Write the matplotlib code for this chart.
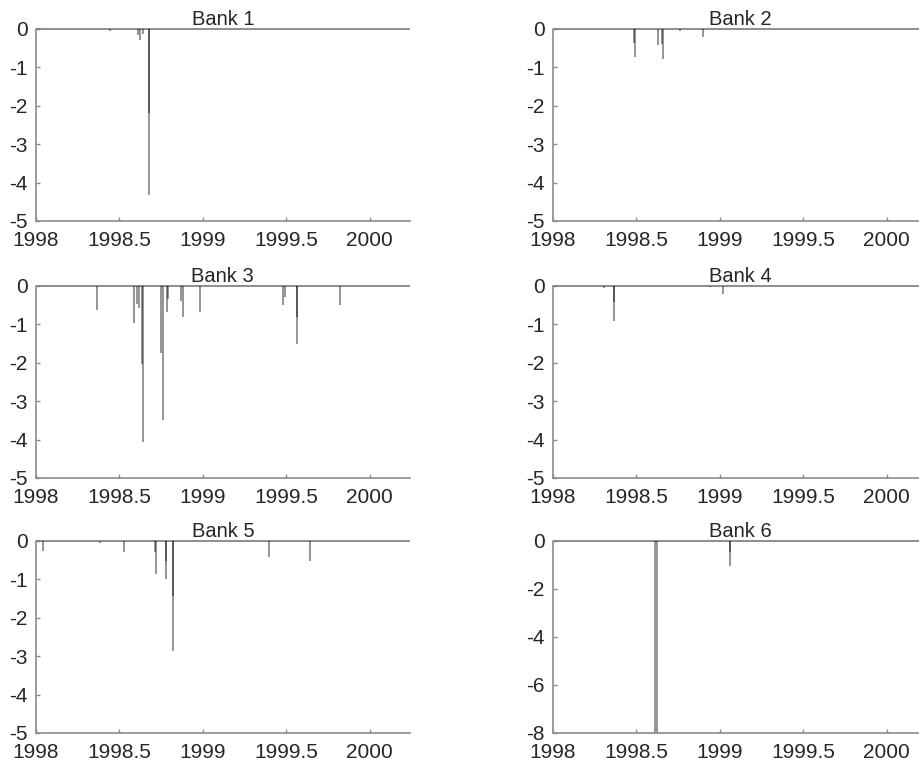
"""Daily loss spikes for six banks, 1998-2000."""

import numpy as np
import matplotlib.pyplot as plt

plt.rcParams["font.family"] = ["Liberation Sans", "DejaVu Sans"]

# time span covered by every series
series_start = 1998.0
series_end = 2000.24

# spike dates (decimal years) and values
bank1_dates = [1998.444, 1998.610, 1998.625, 1998.640, 1998.680, 1998.680]
bank1_values = [-0.06, -0.15, -0.28, -0.12, -2.19, -4.32]

bank2_dates = [1998.485, 1998.490, 1998.630, 1998.655, 1998.662, 1998.760, 1998.900]
bank2_values = [-0.36, -0.72, -0.42, -0.40, -0.78, -0.05, -0.20]

bank3_dates = [1998.364, 1998.590, 1998.605, 1998.615, 1998.633, 1998.640,
               1998.750, 1998.764, 1998.786, 1998.792, 1998.870, 1998.880,
               1998.984, 1999.480, 1999.490, 1999.564, 1999.564, 1999.824]
bank3_values = [-0.63, -0.97, -0.46, -0.58, -2.04, -4.06,
                -1.74, -3.50, -0.67, -0.33, -0.40, -0.80,
                -0.67, -0.49, -0.30, -0.80, -1.52, -0.49]

bank4_dates = [1998.306, 1998.368, 1998.368, 1998.940, 1999.018]
bank4_values = [-0.05, -0.43, -0.91, -0.03, -0.22]

bank5_dates = [1998.040, 1998.384, 1998.528, 1998.712, 1998.718, 1998.778,
               1998.778, 1998.824, 1998.824, 1999.394, 1999.644]
bank5_values = [-0.26, -0.05, -0.28, -0.30, -0.87, -0.52,
                -1.00, -1.44, -2.87, -0.43, -0.52]

bank6_dates = [1998.612, 1998.624, 1999.058, 1999.058]
bank6_values = [-8.0, -8.0, -0.47, -1.04]

panels = [
    ("Bank 1", bank1_dates, bank1_values, (-5, 0), [-5, -4, -3, -2, -1, 0]),
    ("Bank 2", bank2_dates, bank2_values, (-5, 0), [-5, -4, -3, -2, -1, 0]),
    ("Bank 3", bank3_dates, bank3_values, (-5, 0), [-5, -4, -3, -2, -1, 0]),
    ("Bank 4", bank4_dates, bank4_values, (-5, 0), [-5, -4, -3, -2, -1, 0]),
    ("Bank 5", bank5_dates, bank5_values, (-5, 0), [-5, -4, -3, -2, -1, 0]),
    ("Bank 6", bank6_dates, bank6_values, (-8, 0), [-8, -6, -4, -2, 0]),
]

x_ticks = [1998, 1998.5, 1999, 1999.5, 2000]
x_labels = ["1998", "1998.5", "1999", "1999.5", "2000"]

AXIS_GRAY = "#8c8c8c"
TEXT_GRAY = "#262626"

fig = plt.figure(figsize=(9.2, 7.66), dpi=100)

col_left = [0.039, 0.601]
row_bottom = [0.7115, 0.376, 0.0431]
ax_w, ax_h = 0.4065, 0.2507

for i, (title, dates, values, ylim, yticks) in enumerate(panels):
    row, col = divmod(i, 2)
    ax = fig.add_axes([col_left[col], row_bottom[row], ax_w, ax_h])

    ax.plot([series_start, series_end], [0, 0], color="#7a7a7a", lw=1.2,
            clip_on=False, solid_capstyle="butt")
    ax.vlines(np.array(dates), np.array(values), 0, colors="black",
              alpha=0.45, lw=1.3)

    ax.set_xlim(1998, series_end)
    ax.set_ylim(*ylim)
    ax.set_xticks(x_ticks)
    ax.set_xticklabels(x_labels)
    ax.set_yticks(yticks)
    ax.set_yticklabels([str(t) for t in yticks])

    for side in ("top", "right"):
        ax.spines[side].set_visible(False)
    for side in ("left", "bottom"):
        ax.spines[side].set_color(AXIS_GRAY)
        ax.spines[side].set_linewidth(1.2)

    ax.tick_params(direction="in", length=3, width=1, color=AXIS_GRAY,
                   labelsize=15, labelcolor=TEXT_GRAY)
    ax.tick_params(axis="x", pad=7)
    ax.tick_params(axis="y", pad=6)
    ax.set_title(title, fontsize=14.5, color=TEXT_GRAY, pad=3)

fig.savefig("out.png", dpi=100)
